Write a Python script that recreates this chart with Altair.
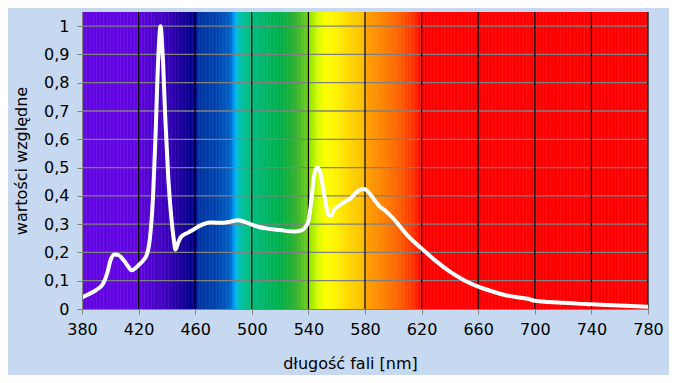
import altair as alt
import pandas as pd
import numpy as np

# Spectrum (white line)
spd_nm = [380, 385, 390, 395, 398, 400, 403, 406, 409, 412, 415, 418, 420, 423, 426, 428,
          430, 432, 434, 435.5, 437, 439, 441, 443, 445, 446, 448, 450, 455, 460, 465, 470,
          475, 480, 485, 490, 495, 500, 505, 510, 520, 530, 535, 538, 540, 542, 544, 546,
          548, 550, 552, 554, 556, 558, 560, 563, 566, 570, 573, 576, 579, 581, 583, 586,
          590, 595, 600, 605, 610, 620, 630, 640, 650, 660, 670, 680, 690, 695, 700, 710,
          720, 730, 740, 760, 780]
spd_val = [0.041, 0.053, 0.067, 0.09, 0.13, 0.17, 0.193, 0.19, 0.175, 0.155, 0.137, 0.145,
           0.155, 0.17, 0.195, 0.25, 0.38, 0.62, 0.9, 1.0, 0.9, 0.66, 0.46, 0.33, 0.24, 0.21,
           0.235, 0.255, 0.27, 0.285, 0.298, 0.306, 0.305, 0.305, 0.309, 0.314, 0.308, 0.298,
           0.29, 0.285, 0.279, 0.274, 0.278, 0.29, 0.31, 0.38, 0.47, 0.5, 0.49, 0.44, 0.38,
           0.335, 0.33, 0.35, 0.36, 0.37, 0.38, 0.392, 0.408, 0.42, 0.424, 0.42, 0.41, 0.39,
           0.365, 0.345, 0.32, 0.29, 0.26, 0.214, 0.17, 0.132, 0.102, 0.079, 0.062, 0.048,
           0.04, 0.036, 0.029, 0.025, 0.022, 0.019, 0.017, 0.012, 0.008]

# Rainbow background colour stops
stop_nm = [380, 418, 440, 455, 460, 461, 475, 484, 488, 490, 494, 505, 520, 530, 537, 542,
           547, 552, 560, 568, 578, 581, 592, 604, 614, 620, 780]
stop_col = ["#6205E2", "#6205E2", "#3A02B8", "#0A0090", "#000088", "#0030A0", "#0045B0",
            "#0060C4", "#00B0FF", "#00C0C0", "#00C090", "#00B870", "#00B048", "#30B030",
            "#60C820", "#A8EC00", "#E0FF00", "#FFFF00", "#FFF000", "#FFD800", "#FFC000",
            "#FFA000", "#FF8400", "#FF6000", "#FF3000", "#FF0000", "#FF0000"]

x_ticks = [380, 420, 460, 500, 540, 580, 620, 660, 700, 740, 780]
y_ticks = [0, 0.1, 0.2, 0.3, 0.4, 0.5, 0.6, 0.7, 0.8, 0.9, 1.0]
vgrid = [420, 460, 500, 540, 580, 620, 660, 700, 740, 780]
hgrid = [0.1, 0.2, 0.3, 0.4, 0.5, 0.6, 0.7, 0.8, 0.9, 1.0]

W, H = 566, 297
FONT = "DejaVu Sans"

xscale = alt.Scale(domain=[380, 780], nice=False, zero=False)
yscale = alt.Scale(domain=[0, 1.05], nice=False)

bg_nm = np.arange(380, 780, 1.0)
bg_df = pd.DataFrame({"nm": bg_nm, "nm2": bg_nm + 1.3})

xaxis = alt.Axis(values=x_ticks, grid=False, domainColor="#808080", tickColor="#808080",
                 tickSize=5, labelFont=FONT, labelFontSize=16, labelColor="#000000",
                 labelPadding=7, labelOverlap=False, labelFlush=False,
                 title="długość fali [nm]", titleFont=FONT, titleFontSize=16,
                 titleFontWeight="normal", titleColor="#000000", titlePadding=18,
                 titleX=268, zindex=1)
yaxis = alt.Axis(values=y_ticks, tickCount=11, grid=False, domainColor="#808080",
                 tickColor="#808080", tickSize=5, labelFont=FONT, labelFontSize=16,
                 labelColor="#000000", labelPadding=8, labelOverlap=False, labelFlush=False,
                 labelExpr="replace(format(datum.value, '.1~f'), '.', ',')",
                 title="wartości względne", titleFont=FONT, titleFontSize=16,
                 titleFontWeight="normal", titleColor="#000000", titlePadding=14, zindex=1)

bg = alt.Chart(bg_df).mark_rect(clip=True).encode(
    x=alt.X("nm:Q", scale=xscale, axis=xaxis),
    x2="nm2:Q",
    y=alt.value(0),
    y2=alt.value(H),
    color=alt.Color("nm:Q", scale=alt.Scale(domain=stop_nm, range=stop_col, interpolate="rgb"),
                    legend=None),
)

hg = alt.Chart(pd.DataFrame({"v": hgrid})).mark_rule(color="#808080", strokeWidth=1.3).encode(
    y=alt.Y("v:Q", scale=yscale, axis=yaxis),
)
vg = alt.Chart(pd.DataFrame({"nm": vgrid})).mark_rule(color="#000000", strokeWidth=1.2).encode(
    x=alt.X("nm:Q", scale=xscale, axis=xaxis),
)

line = alt.Chart(pd.DataFrame({"nm": spd_nm, "v": spd_val})).mark_line(
    color="#FFFFFF", strokeWidth=4, interpolate="monotone", strokeCap="round",
    strokeJoin="round", clip=True
).encode(
    x=alt.X("nm:Q", scale=xscale, axis=xaxis),
    y=alt.Y("v:Q", scale=yscale, axis=yaxis),
)

chart = alt.layer(bg, hg, vg, line).properties(
    width=W, height=H, background="#C6D9F1",
    autosize=alt.AutoSizeParams(type="none"),
    padding={"left": 74, "top": 4, "right": 21, "bottom": 66},
).configure_view(stroke=None).configure_axisY(labelOverlap=False)

chart.save("out.html", embed_options={"renderer": "svg", "actions": False})
